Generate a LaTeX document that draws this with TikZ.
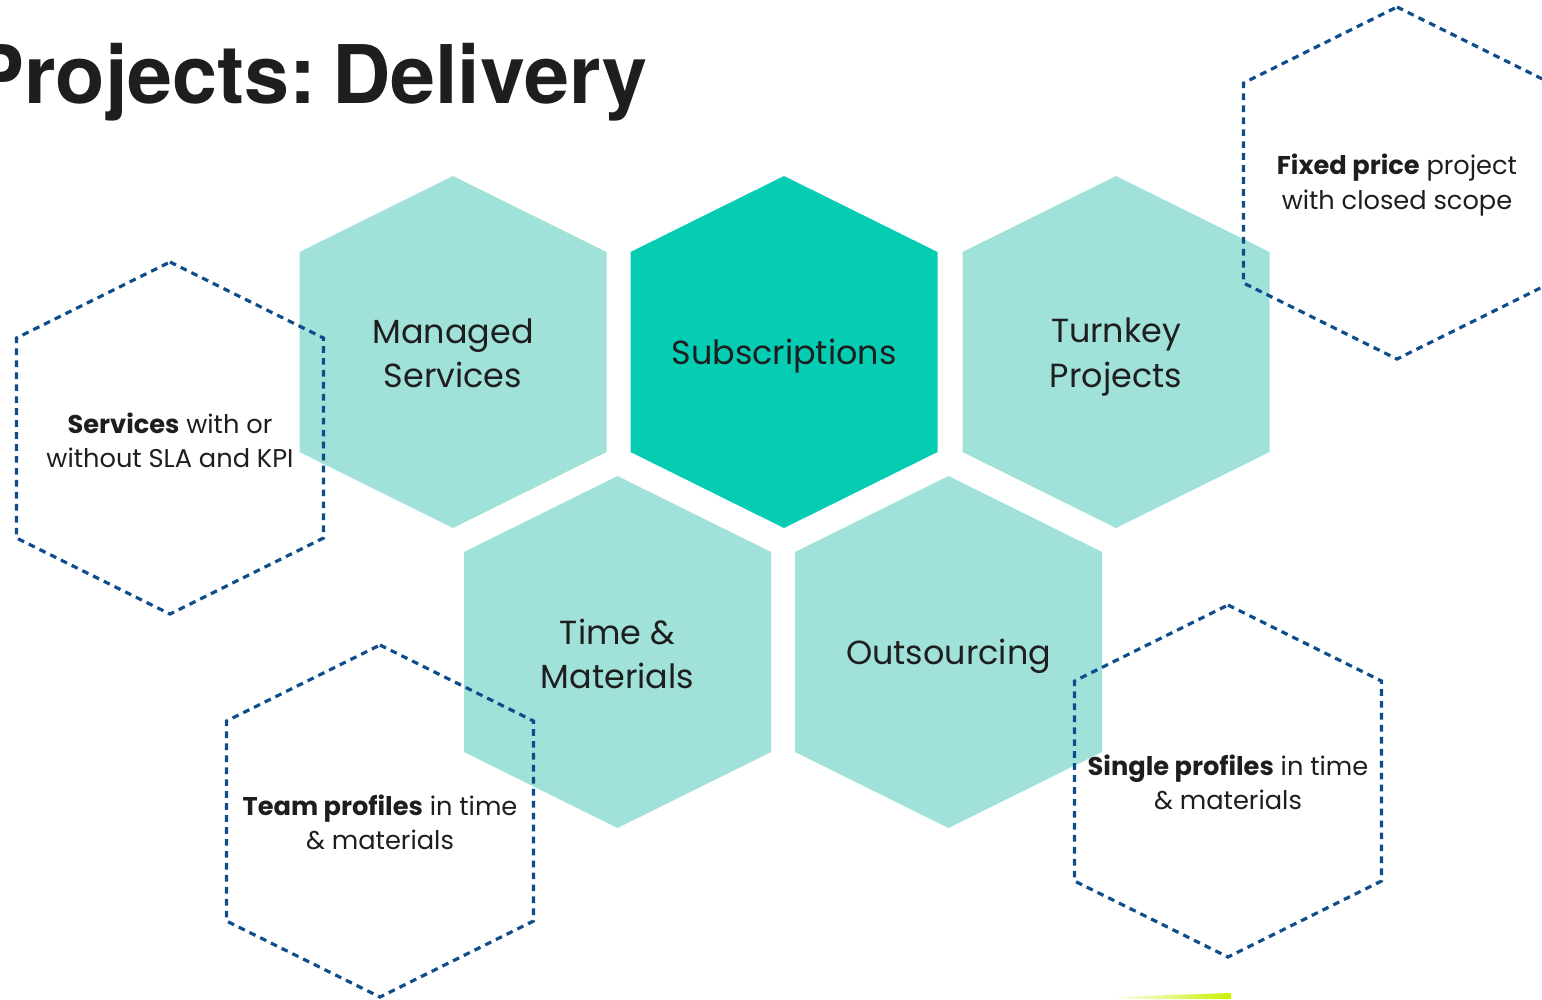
\documentclass[tikz,border=0pt]{standalone}
\usepackage{fontspec}
\setmainfont{Poppins}
\newfontfamily\titlefont{TeX Gyre Heros}

\definecolor{paleteal}{HTML}{A0E2D9}
\definecolor{brightteal}{HTML}{05CDB4}
\definecolor{dashblue}{HTML}{0F4C8C}
\definecolor{inkgray}{HTML}{1E1E1E}
\definecolor{limegreen}{HTML}{C8F000}

% hexagon path around a centre (x,y), pixel units
\newcommand{\hexa}[2]{(#1,#2-176) -- ++(153.5,76) -- ++(0,200) -- ++(-153.5,76) -- ++(-153.5,-76) -- ++(0,-200) -- cycle}

\tikzset{
  hexlabel/.style={align=center, text=inkgray, font=\fontsize{9.5}{12.6}\selectfont},
  notelabel/.style={align=center, text=inkgray, font=\fontsize{7.3}{9.7}\selectfont},
  dashhex/.style={draw=dashblue, line width=0.9pt, dash pattern=on 1.9pt off 1.5pt},
}

\begin{document}
\begin{tikzpicture}[x=0.01cm, y=-0.01cm]
    \clip (0,0) rectangle (1542,999);
    \fill[white] (0,0) rectangle (1542,999);

    % filled hexagons
    \fill[paleteal] \hexa{453}{352};
    \fill[brightteal] \hexa{784}{352};
    \fill[paleteal] \hexa{1116}{352};

    \fill[paleteal] \hexa{617.5}{652};
    \fill[paleteal] \hexa{948.5}{652};

    % dashed hexagons
    \draw[dashhex] \hexa{170}{438};
    \draw[dashhex] \hexa{1397}{183};
    \draw[dashhex] \hexa{380}{821};
    \draw[dashhex] \hexa{1228}{781};

    \shade[left color=white, right color=limegreen] (1110,997) -- (1231,993) -- (1231,999) -- (1110,999) -- cycle;

    % titel
    \node[anchor=base east, text=inkgray, font=\titlefont\bfseries\fontsize{23}{27}\selectfont] (title) at (660,103) {Projects:\kern-2pt\ Delivery};

    % etiquetas
    \node[hexlabel] (managed) at (453,353) {Managed\\Services};
    \node[hexlabel] (subs) at (784,356) {Subscriptions};
    \node[hexlabel] (turnkey) at (1116,357) {Turnkey\\Projects};
    \node[hexlabel] (tandm) at (617.5,654) {Time \&\\Materials};
    \node[hexlabel] (outsourcing) at (948.5,656) {Outsourcing};

    \node[notelabel] (services) at (170,440) {\textbf{Services} with or\\without SLA and KPI};
    \node[notelabel] (fixed) at (1397,185) {\textbf{Fixed price} project\\with closed scope};
    \node[notelabel] (team) at (380,822) {\textbf{Team profiles} in time\\\& materials};
    \node[notelabel] (single) at (1228,782) {\textbf{Single profiles} in time\\\& materials};

\end{tikzpicture}
\end{document}
